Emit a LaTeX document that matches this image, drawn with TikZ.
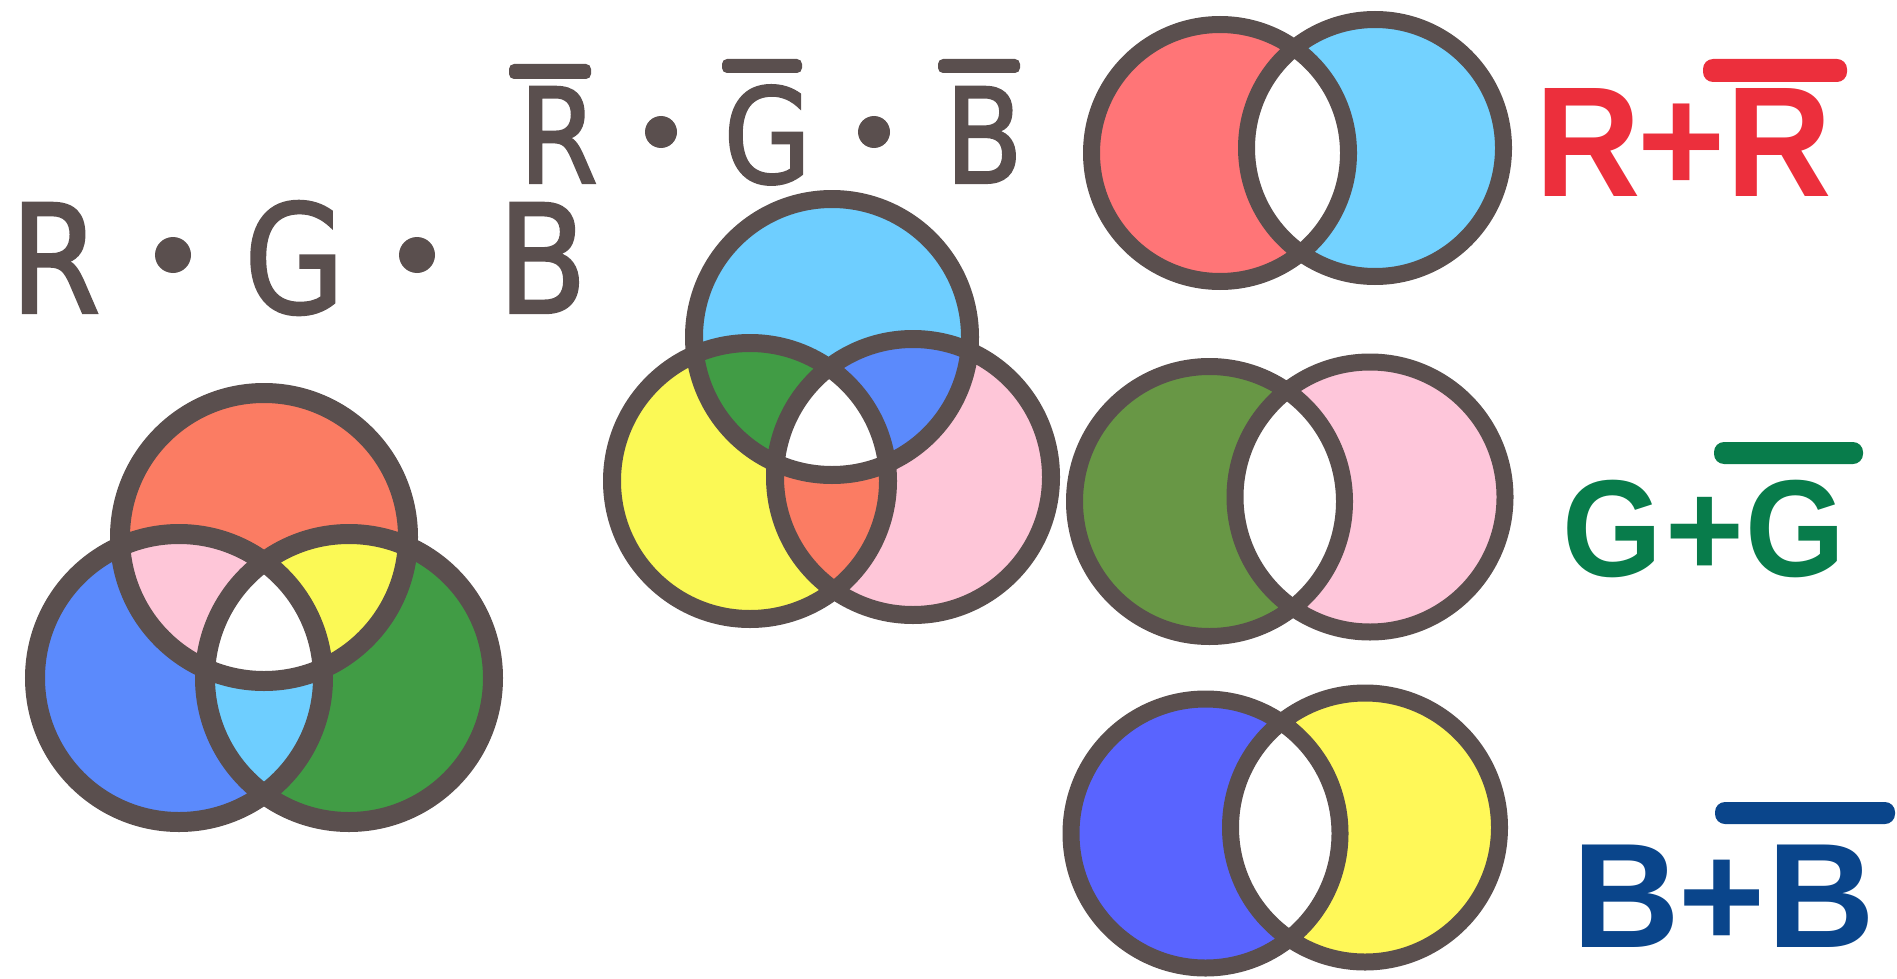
\documentclass[tikz,border=0pt]{standalone}
\usepackage{fontspec}
\newfontfamily\dinfont[FakeStretch=0.86,FakeBold=1.6]{DejaVu Sans}
\newfontfamily\arialfont{Liberation Sans}
\newfontfamily\arialnarrow[FakeStretch=0.93]{Liberation Sans}
\definecolor{cGrey}{RGB}{90,79,78}
\definecolor{cSalmon}{RGB}{251,124,99}
\definecolor{cPink}{RGB}{254,198,216}
\definecolor{cYellow}{RGB}{251,249,85}
\definecolor{cBlue}{RGB}{91,138,252}
\definecolor{cGreen}{RGB}{65,156,69}
\definecolor{cSky}{RGB}{110,206,255}
\definecolor{cCoral}{RGB}{255,117,119}
\definecolor{cSkyB}{RGB}{115,210,255}
\definecolor{cOlive}{RGB}{104,151,69}
\definecolor{cPinkB}{RGB}{254,198,218}
\definecolor{cIndigo}{RGB}{89,100,255}
\definecolor{cLemon}{RGB}{255,248,88}
\definecolor{tRed}{RGB}{236,47,60}
\definecolor{tGreen}{RGB}{8,124,75}
\definecolor{tBlue}{RGB}{10,69,139}
\tikzset{
  ring/.style={draw=cGrey, line width=#1},
  glyph/.style={anchor=base, inner sep=0pt, outer sep=0pt, text=cGrey},
  bigglyph/.style={glyph, font=\dinfont\fontsize{151}{151}\selectfont},
  midglyph/.style={glyph, font=\dinfont\fontsize{132}{132}\selectfont},
  sumglyph/.style={anchor=base, inner sep=0pt, outer sep=0pt, font=\arialfont\bfseries\fontsize{#1}{#1}\selectfont},
  sumnarrow/.style={anchor=base, inner sep=0pt, outer sep=0pt, font=\arialnarrow\bfseries\fontsize{#1}{#1}\selectfont},
}
\begin{document}
\begin{tikzpicture}[x=1pt,y=-1pt]
\useasboundingbox (0,0) rectangle (1897,979);

% ---------- left three-circle Venn ----------
\def\rL{144pt}
\coordinate (LA) at (264,537);
\coordinate (LB) at (179,678);
\coordinate (LC) at (349,678);
\fill[cSalmon] (LA) circle[radius=\rL];
\fill[cBlue] (LB) circle[radius=\rL];
\fill[cGreen] (LC) circle[radius=\rL];
\begin{scope}
  \clip (LA) circle[radius=\rL];
  \fill[cPink] (LB) circle[radius=\rL];
  \fill[cYellow] (LC) circle[radius=\rL];
\end{scope}
\begin{scope}
  \clip (LB) circle[radius=\rL];
  \fill[cSky] (LC) circle[radius=\rL];
\end{scope}
\begin{scope}
  \clip (LA) circle[radius=\rL];
  \clip (LB) circle[radius=\rL];
  \fill[white] (LC) circle[radius=\rL];
\end{scope}
\draw[ring=20pt] (LA) circle[radius=\rL] (LB) circle[radius=\rL] (LC) circle[radius=\rL];

% ---------- middle three-circle Venn ----------
\def\rM{138pt}
\coordinate (MA) at (832,337);
\coordinate (MB) at (750,481);
\coordinate (MC) at (913,477);
\fill[cSky] (MA) circle[radius=\rM];
\fill[cYellow] (MB) circle[radius=\rM];
\fill[cPink] (MC) circle[radius=\rM];
\begin{scope}
  \clip (MA) circle[radius=\rM];
  \fill[cGreen] (MB) circle[radius=\rM];
  \fill[cBlue] (MC) circle[radius=\rM];
\end{scope}
\begin{scope}
  \clip (MB) circle[radius=\rM];
  \fill[cSalmon] (MC) circle[radius=\rM];
\end{scope}
\begin{scope}
  \clip (MA) circle[radius=\rM];
  \clip (MB) circle[radius=\rM];
  \fill[white] (MC) circle[radius=\rM];
\end{scope}
\draw[ring=18pt] (MA) circle[radius=\rM] (MB) circle[radius=\rM] (MC) circle[radius=\rM];

% ---------- right two-circle Venns ----------
% R
\coordinate (RL) at (1220,153);
\coordinate (RR) at (1375,148);
\def\rR{128.5pt}
\fill[cCoral] (RL) circle[radius=\rR];
\fill[cSkyB] (RR) circle[radius=\rR];
\begin{scope}
  \clip (RL) circle[radius=\rR];
  \fill[white] (RR) circle[radius=\rR];
\end{scope}
\draw[ring=17pt] (RL) circle[radius=\rR] (RR) circle[radius=\rR];
% G
\coordinate (GL) at (1209.5,501.5);
\coordinate (GR) at (1370,497);
\def\rG{135pt}
\fill[cOlive] (GL) circle[radius=\rG];
\fill[cPinkB] (GR) circle[radius=\rG];
\begin{scope}
  \clip (GL) circle[radius=\rG];
  \fill[white] (GR) circle[radius=\rG];
\end{scope}
\draw[ring=17pt] (GL) circle[radius=\rG] (GR) circle[radius=\rG];
% B
\coordinate (BL) at (1205.5,833.5);
\coordinate (BR) at (1365,827.5);
\def\rB{134.5pt}
\fill[cIndigo] (BL) circle[radius=\rB];
\fill[cLemon] (BR) circle[radius=\rB];
\begin{scope}
  \clip (BL) circle[radius=\rB];
  \fill[white] (BR) circle[radius=\rB];
\end{scope}
\draw[ring=17pt] (BL) circle[radius=\rB] (BR) circle[radius=\rB];

% ---------- grey R . G . B ----------
\node[bigglyph] (lR) at (55.5,313) {R};
\node[bigglyph] (lG) at (294.5,313) {G};
\node[bigglyph] (lB) at (542.5,313) {B};
\fill[cGrey] (173,255) circle[radius=18pt];
\fill[cGrey] (417,255) circle[radius=18pt];

% ---------- grey Rbar . Gbar . Bbar ----------
\node[midglyph] (mR) at (558.5,183) {R};
\node[midglyph] (mG) at (767.5,183) {G};
\node[midglyph] (mB) at (984,183) {B};
\fill[cGrey] (661,132) circle[radius=16pt];
\fill[cGrey] (874,132) circle[radius=16pt];
\fill[cGrey, rounded corners=5pt] (509,64) rectangle (591,79);
\fill[cGrey, rounded corners=5pt] (722,59) rectangle (802,73);
\fill[cGrey, rounded corners=5pt] (938,59) rectangle (1020,73);

% ---------- R + Rbar ----------
\node[sumnarrow=157, text=tRed] (sR1) at (1588.5,196) {R};
\node[sumglyph=151, text=tRed] (sRp) at (1682,192) {+};
\node[sumnarrow=157, text=tRed] (sR2) at (1779.5,196) {R};
\fill[tRed, rounded corners=10pt] (1703,59) rectangle (1847,82);

% ---------- G + Gbar ----------
\node[sumnarrow=138, text=tGreen] (sG1) at (1612.5,576) {G};
\node[sumglyph=135, text=tGreen] (sGp) at (1704.5,576) {+};
\node[sumnarrow=138, text=tGreen] (sG2) at (1795,576) {G};
\fill[tGreen, rounded corners=10pt] (1714,442) rectangle (1863,464);

% ---------- B + Bbar ----------
\node[sumglyph=149, text=tBlue] (sB1) at (1626.5,947) {B};
\node[sumglyph=149, text=tBlue] (sBp) at (1722,947) {+};
\node[sumglyph=149, text=tBlue] (sB2) at (1821,947) {B};
\fill[tBlue, rounded corners=10pt] (1715,802) rectangle (1895,824);
\end{tikzpicture}
\end{document}
